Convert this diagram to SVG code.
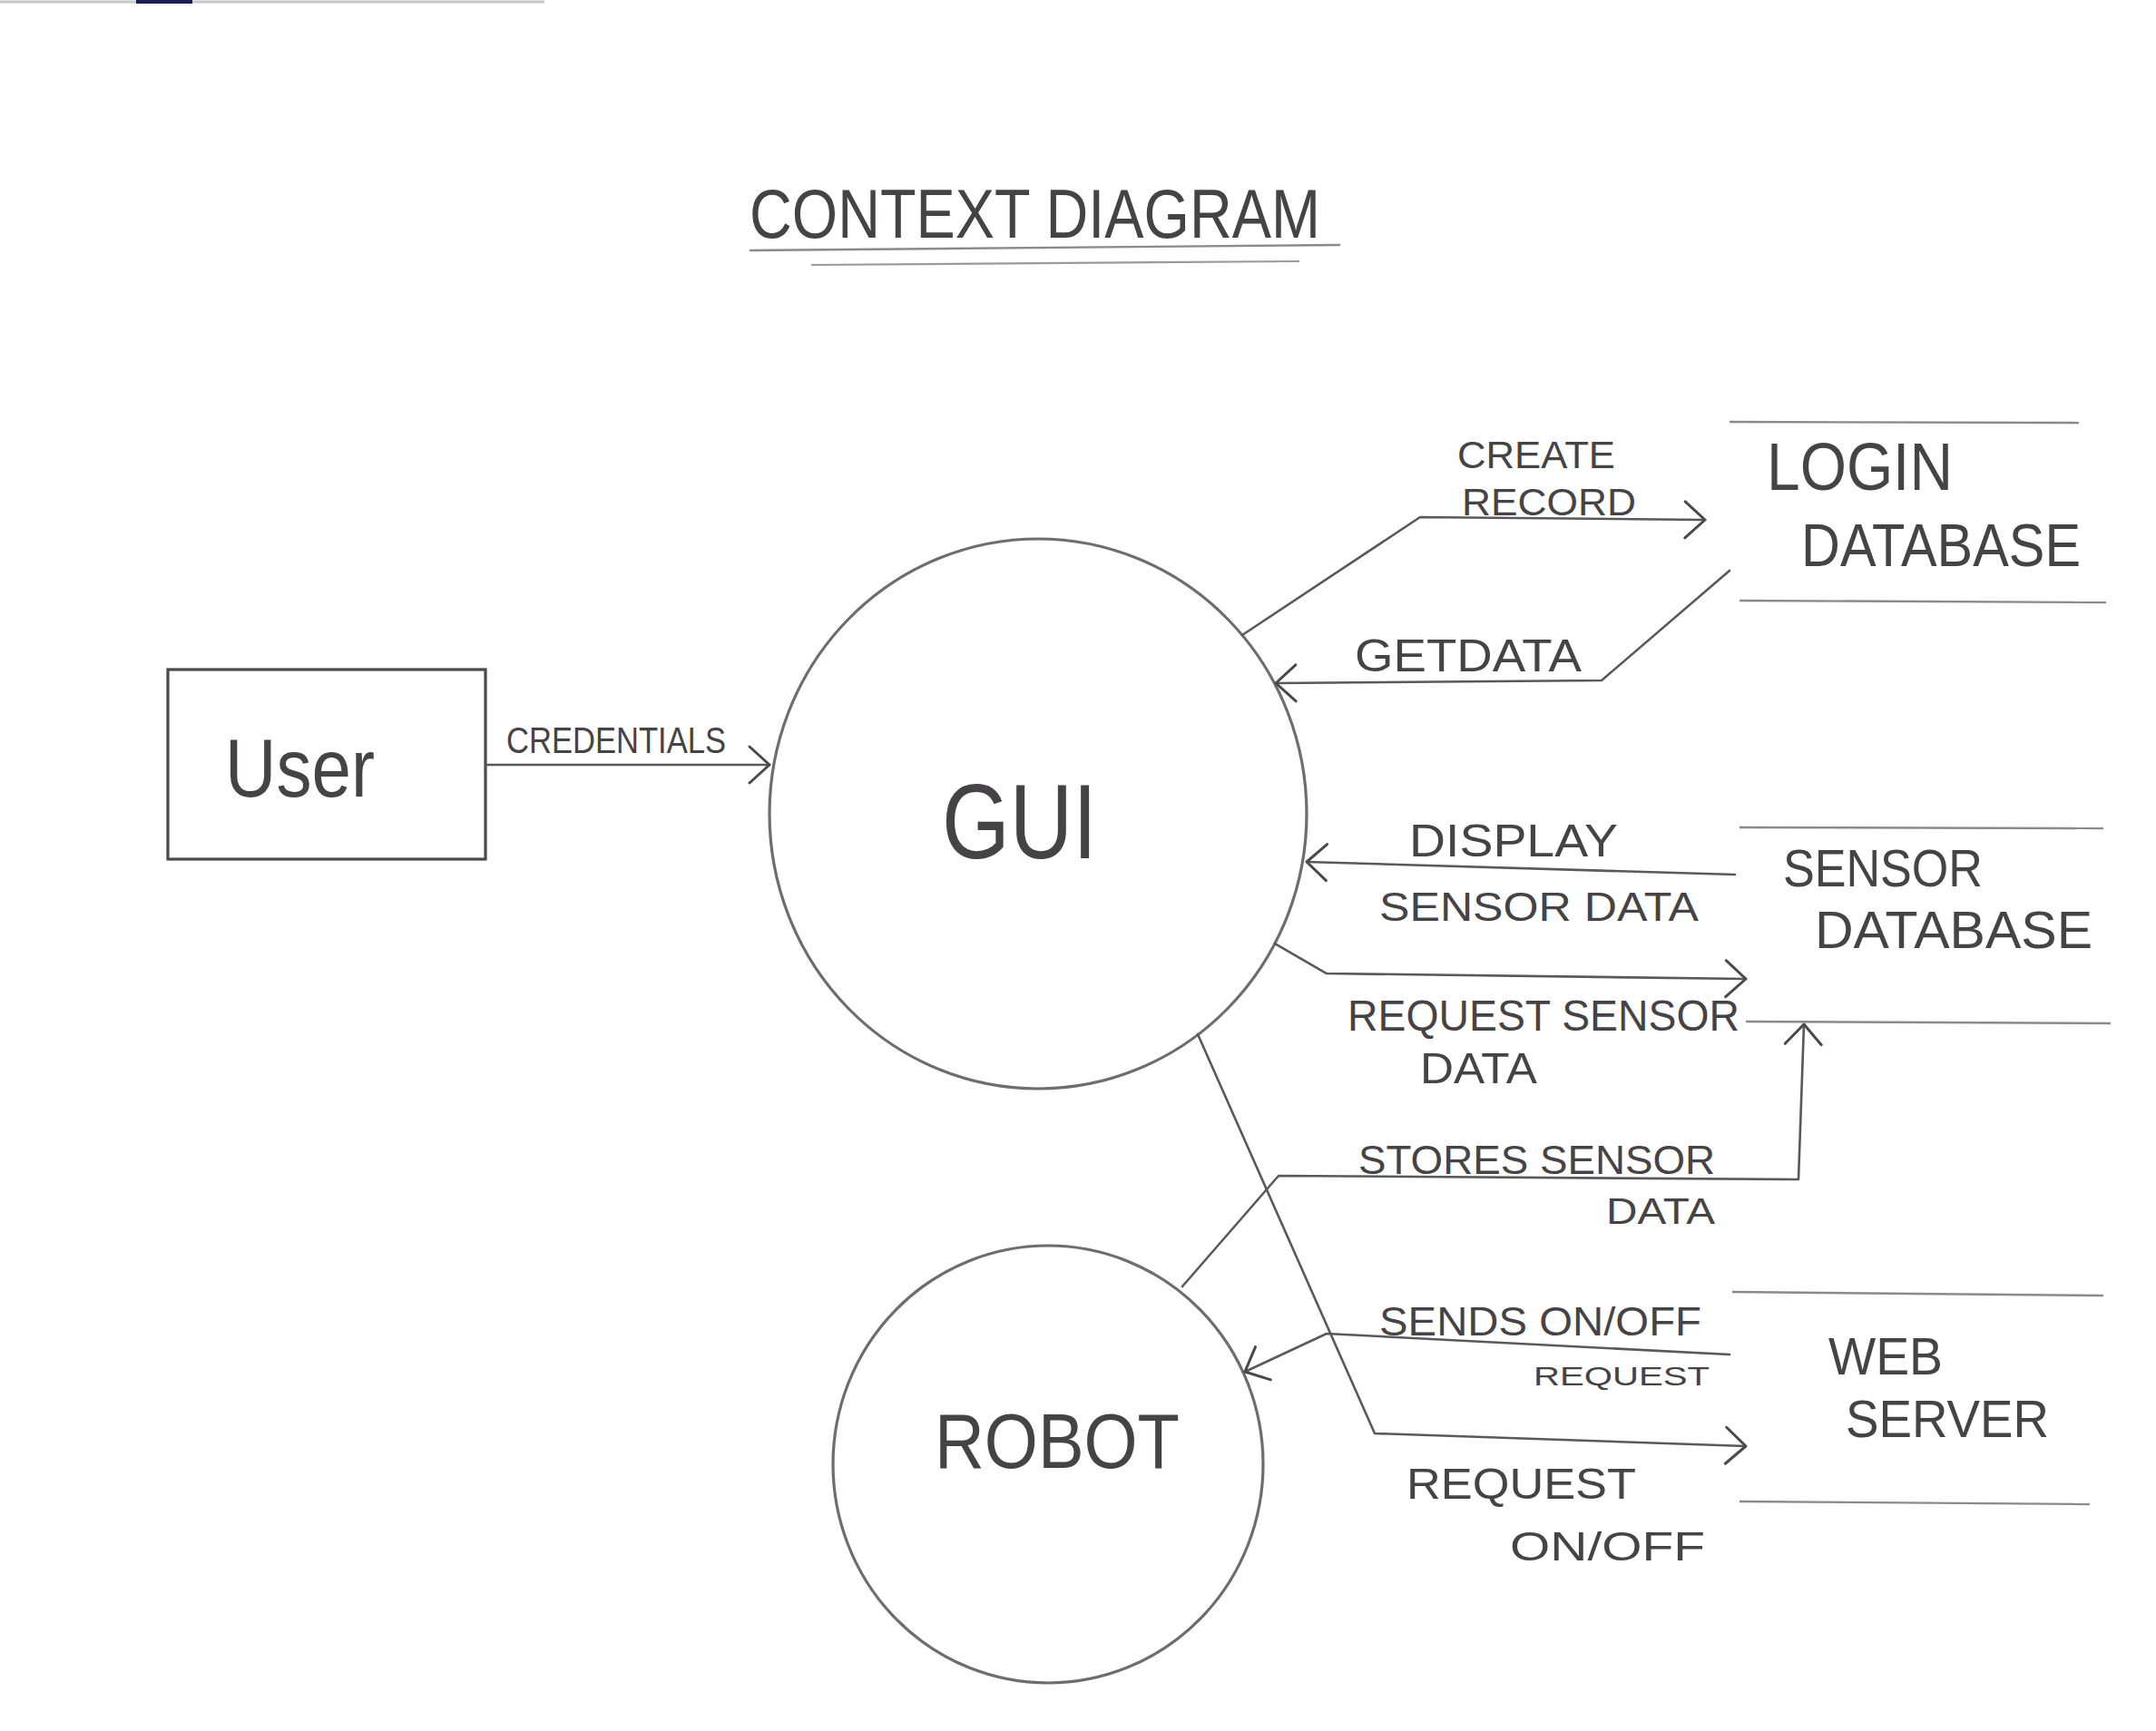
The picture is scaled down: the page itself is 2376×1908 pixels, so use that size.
<svg xmlns="http://www.w3.org/2000/svg" width="2376" height="1908" viewBox="0 0 2376 1908">
<defs>
<style>
.t{font-family:"Liberation Sans","DejaVu Sans",sans-serif;fill:#454345;}
.ln{fill:none;stroke:#5a585a;stroke-width:2.6;stroke-linecap:round;stroke-linejoin:round;}
.store{fill:none;stroke:#8a8a8a;stroke-width:2.4;}
.node{fill:none;stroke:#6e6c6e;stroke-width:3.2;}
</style>
<marker id="chev" markerUnits="userSpaceOnUse" markerWidth="30" markerHeight="50" refX="24" refY="22" orient="auto">
<path d="M2,2 L24,22 L2,42" fill="none" stroke="#4a484a" stroke-width="3" stroke-linecap="round" stroke-linejoin="round"/>
</marker>
</defs>
<rect width="2376" height="1908" fill="#ffffff"/>
<line x1="0" y1="2" x2="600" y2="2" stroke="#c8c6cc" stroke-width="3"/>
<rect x="150" y="0" width="62" height="4" fill="#1c1c58"/>

<g id="title">
<text class="t" x="826" y="262" font-size="76" textLength="629" lengthAdjust="spacingAndGlyphs">CONTEXT DIAGRAM</text>
<line x1="826" y1="276" x2="1477" y2="270" stroke="#8a8a8a" stroke-width="2.4"/>
<line x1="894" y1="292" x2="1432" y2="288" stroke="#9a9a9a" stroke-width="2.2"/>
</g>

<g id="user">
<rect x="185" y="738" width="350" height="209" fill="none" stroke="#4a484a" stroke-width="3.2"/>
<text class="t" x="248" y="878" font-size="90" textLength="165" lengthAdjust="spacingAndGlyphs">User</text>
</g>

<g id="gui">
<ellipse cx="1144" cy="897" rx="296" ry="303" class="node"/>
<text class="t" x="1038" y="946" font-size="116" textLength="171" lengthAdjust="spacingAndGlyphs">GUI</text>
</g>

<g id="robot">
<ellipse cx="1155" cy="1614" rx="237" ry="241" class="node"/>
<text class="t" x="1030" y="1618" font-size="86" textLength="270" lengthAdjust="spacingAndGlyphs">ROBOT</text>
</g>

<g id="login-database">
<line x1="1906" y1="465" x2="2291" y2="466" class="store"/>
<line x1="1917" y1="662" x2="2321" y2="664" class="store"/>
<text class="t" x="1947" y="540" font-size="74" textLength="205" lengthAdjust="spacingAndGlyphs">LOGIN</text>
<text class="t" x="1985" y="624" font-size="66" textLength="308" lengthAdjust="spacingAndGlyphs">DATABASE</text>
</g>

<g id="sensor-database">
<line x1="1917" y1="912" x2="2318" y2="913" class="store"/>
<line x1="1924" y1="1126" x2="2326" y2="1128" class="store"/>
<text class="t" x="1965" y="977" font-size="58" textLength="220" lengthAdjust="spacingAndGlyphs">SENSOR</text>
<text class="t" x="2000" y="1045" font-size="58" textLength="306" lengthAdjust="spacingAndGlyphs">DATABASE</text>
</g>

<g id="web-server">
<line x1="1909" y1="1424" x2="2318" y2="1428" class="store"/>
<line x1="1917" y1="1655" x2="2303" y2="1658" class="store"/>
<text class="t" x="2015" y="1515" font-size="58" textLength="126" lengthAdjust="spacingAndGlyphs">WEB</text>
<text class="t" x="2034" y="1584" font-size="58" textLength="224" lengthAdjust="spacingAndGlyphs">SERVER</text>
</g>

<g id="connectors">
<path class="ln" d="M535,843 L848,843" marker-end="url(#chev)"/>
<path class="ln" d="M1369,700 L1565,570 L1879,573" marker-end="url(#chev)"/>
<path class="ln" d="M1906,629 L1765,750 L1406,753" marker-end="url(#chev)"/>
<path class="ln" d="M1912,964 L1440,950" marker-end="url(#chev)"/>
<path class="ln" d="M1405,1040 L1462,1073 L1924,1079" marker-end="url(#chev)"/>
<path class="ln" d="M1303,1418 L1409,1296 L1982,1300 L1988,1129" marker-end="url(#chev)"/>
<path class="ln" d="M1320,1140 L1515,1580 L1924,1594" marker-end="url(#chev)"/>
<path class="ln" d="M1906,1493 L1462,1470 L1372,1512" marker-end="url(#chev)"/>
</g>

<g id="labels">
<text class="t" x="558" y="830" font-size="40" textLength="242" lengthAdjust="spacingAndGlyphs">CREDENTIALS</text>
<text class="t" x="1606" y="516" font-size="42" textLength="174" lengthAdjust="spacingAndGlyphs">CREATE</text>
<text class="t" x="1611" y="568" font-size="42" textLength="192" lengthAdjust="spacingAndGlyphs">RECORD</text>
<text class="t" x="1493" y="740" font-size="50" textLength="250" lengthAdjust="spacingAndGlyphs">GETDATA</text>
<text class="t" x="1553" y="944" font-size="50" textLength="230" lengthAdjust="spacingAndGlyphs">DISPLAY</text>
<text class="t" x="1520" y="1015" font-size="44" textLength="352" lengthAdjust="spacingAndGlyphs">SENSOR DATA</text>
<text class="t" x="1485" y="1136" font-size="48" textLength="432" lengthAdjust="spacingAndGlyphs">REQUEST SENSOR</text>
<text class="t" x="1565" y="1194" font-size="48" textLength="129" lengthAdjust="spacingAndGlyphs">DATA</text>
<text class="t" x="1497" y="1294" font-size="44" textLength="393" lengthAdjust="spacingAndGlyphs">STORES SENSOR</text>
<text class="t" x="1770" y="1349" font-size="40" textLength="120" lengthAdjust="spacingAndGlyphs">DATA</text>
<text class="t" x="1520" y="1472" font-size="44" textLength="355" lengthAdjust="spacingAndGlyphs">SENDS ON/OFF</text>
<text class="t" x="1690" y="1527" font-size="30" textLength="194" lengthAdjust="spacingAndGlyphs">REQUEST</text>
<text class="t" x="1550" y="1652" font-size="48" textLength="253" lengthAdjust="spacingAndGlyphs">REQUEST</text>
<text class="t" x="1664" y="1720" font-size="44" textLength="215" lengthAdjust="spacingAndGlyphs">ON/OFF</text>
</g>
</svg>
